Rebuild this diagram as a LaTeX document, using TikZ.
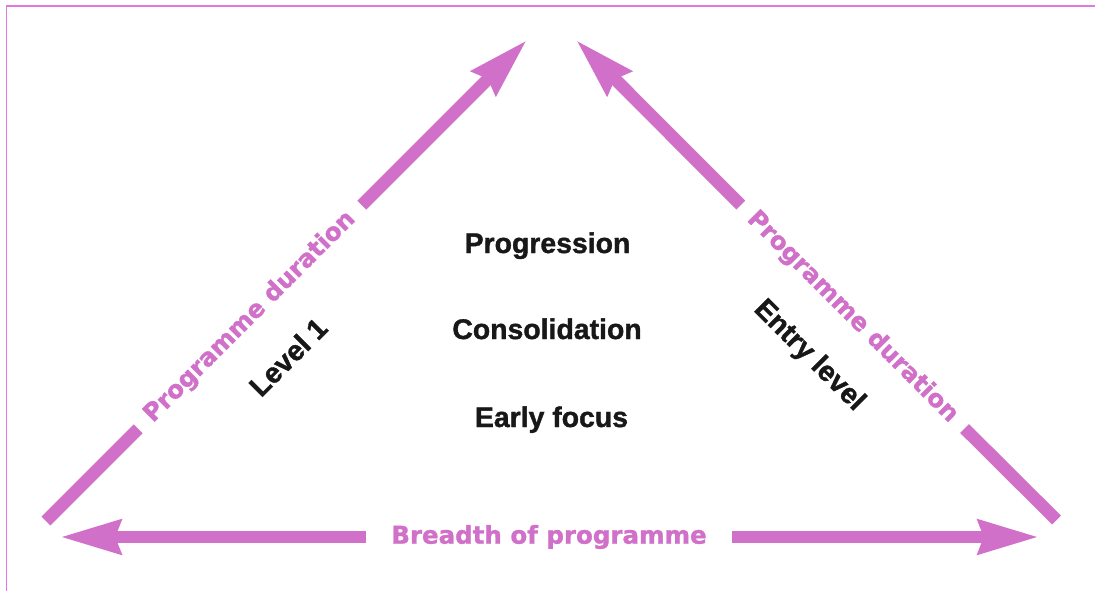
\documentclass[tikz,border=0pt]{standalone}
\usepackage{fontspec}
\setmainfont{Liberation Sans}
\newfontfamily\stagefont{Liberation Sans}[BoldFeatures={FakeBold=1.3}]
\newfontfamily\labelfont{DejaVu Sans}[BoldFeatures={FakeBold=1.2}]
\usetikzlibrary{arrows.meta}
\definecolor{orchid}{RGB}{208,112,200}
\definecolor{framepink}{RGB}{226,118,226}
\definecolor{ink}{RGB}{24,24,24}

\begin{document}
\begin{tikzpicture}[x=1pt,y=-1pt,
  axis/.style={draw=orchid, line width=12.5pt},
  axisarrow/.style={axis, -{Stealth[length=60pt,width=33pt,inset=5pt]}},
  axislabel/.style={text=orchid, font=\labelfont\bfseries\fontsize{24.5}{24.5}\selectfont,
    inner sep=0pt, inner xsep=14.5pt, outer sep=0pt},
  stage/.style={text=ink, font=\stagefont\bfseries\fontsize{28.4}{28.4}\selectfont, inner sep=0pt}]

\useasboundingbox (0,0) rectangle (1095,591);

% page frame (top and left rules)
\draw[framepink, line width=1.7pt] (6.5,591) -- (6.5,5.8) -- (1095,5.8);

% end points of the axes
\coordinate (leftfoot) at (46,521);
\coordinate (rightfoot) at (1056.5,520);
\coordinate (apexL) at (527,40);
\coordinate (apexR) at (576,40);
\coordinate (baseL) at (60,537);
\coordinate (baseR) at (1039,537);

% axis labels
\node[axislabel, rotate=45] (durL) at (250,317) {Programme duration};
\node[axislabel, rotate=-45] (durR) at (852.5,317) {Programme duration};
\node[axislabel, inner xsep=25pt] (breadth) at (549,537) {Breadth of programme};

% axes
\draw[axis] (leftfoot) -- (durL);
\draw[axisarrow] (durL) -- (apexL);
\draw[axis] (rightfoot) -- (durR);
\draw[axisarrow] (durR) -- (apexR);
\draw[axisarrow] (breadth) -- (baseL);
\draw[axisarrow] (breadth) -- (baseR);

% stages inside the triangle
\node[stage, anchor=base] (prog) at (547.5,253) {Progression};
\node[stage, anchor=base] (cons) at (547,339) {Consolidation};
\node[stage, anchor=base] (early) at (551.5,427) {Early focus};
\node[stage, rotate=45] (lvl1) at (288,357) {Level 1};
\node[stage, rotate=-45] (entry) at (809,356) {Entry level};
\end{tikzpicture}
\end{document}
